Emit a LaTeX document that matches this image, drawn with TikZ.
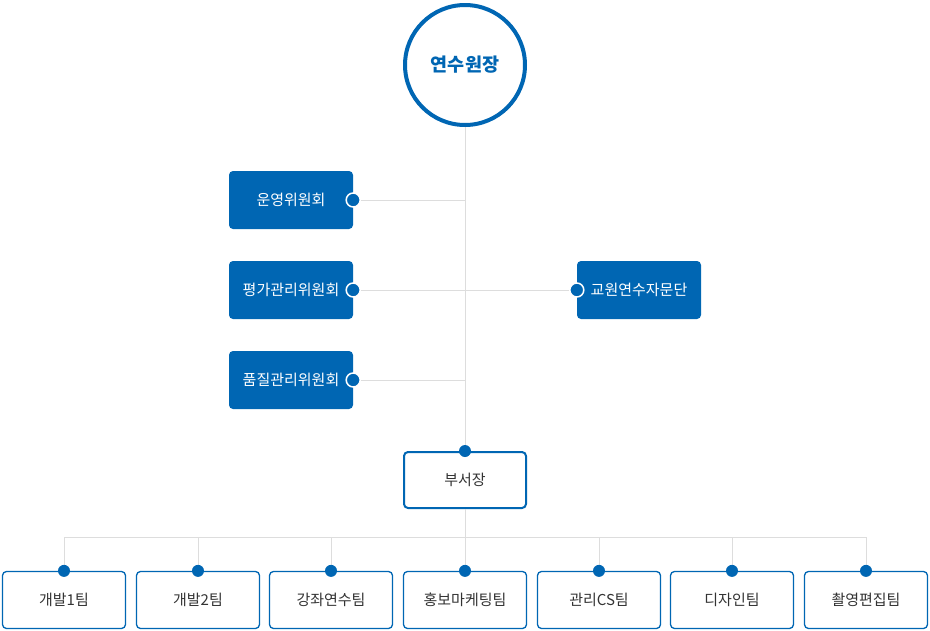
\documentclass[tikz,border=0pt]{standalone}
\usepackage{fontspec}
\newfontfamily\kr{Noto Sans CJK KR}
\definecolor{orgblue}{HTML}{0066B3}
\definecolor{linegray}{HTML}{DDDDDD}
\definecolor{textgray}{HTML}{333333}
\tikzset{
  chiefnode/.style={circle,draw=orgblue,line width=4pt,fill=white,minimum size=120pt,inner sep=0pt,
    text=orgblue,font=\kr\bfseries\fontsize{18.5}{21}\selectfont},
  boardbox/.style={rectangle,rounded corners=4pt,fill=orgblue,minimum width=124pt,minimum height=58pt,
    inner sep=0pt,text=white,font=\kr\fontsize{15}{17}\selectfont},
  teambox/.style={rectangle,rounded corners=4pt,draw=orgblue,line width=1.3pt,fill=white,minimum width=123pt,
    minimum height=57pt,inner sep=0pt,text=textgray,font=\kr\fontsize{15}{17}\selectfont},
  dot/.style={circle,fill=orgblue,draw=white,line width=1.5pt,minimum size=14pt,inner sep=0pt},
  link/.style={draw=linegray,line width=1pt}
}
\begin{document}
\begin{tikzpicture}[x=1pt,y=-1pt]
\useasboundingbox (0,0) rectangle (930,630);

%Top
\node[chiefnode] (chief) at (465,65) {연수원장};

%Committees
\node[boardbox] (ops) at (291,200) {운영위원회};
\node[boardbox] (eval) at (291,290) {평가관리위원회};
\node[boardbox] (qual) at (291,380) {품질관리위원회};
\node[boardbox] (adv) at (639,290) {교원연수자문단};

%Department head
\node[teambox,line width=2pt,minimum width=122pt,minimum height=56pt] (head) at (465,480) {부서장};

%Teams
\node[teambox] (dev1) at (64,600) {개발1팀};
\node[teambox] (dev2) at (198,600) {개발2팀};
\node[teambox] (lect) at (331,600) {강좌연수팀};
\node[teambox] (pr) at (465,600) {홍보마케팅팀};
\node[teambox] (mgmt) at (599,600) {관리CS팀};
\node[teambox] (design) at (732,600) {디자인팀};
\node[teambox] (film) at (866,600) {촬영편집팀};

%Links
\draw[link] (chief.south) -- (head.north);
\draw[link] (ops.east) -- (ops.east -| chief.south);
\draw[link] (eval.east) -- (adv.west);
\draw[link] (qual.east) -- (qual.east -| chief.south);
\coordinate (bus) at (465,537);
\draw[link] (head.south) -- (bus);
\draw[link] (dev1.north |- bus) -- (film.north |- bus);
\draw[link] (dev1.north |- bus) -- (dev1.north);
\draw[link] (dev2.north |- bus) -- (dev2.north);
\draw[link] (lect.north |- bus) -- (lect.north);
\draw[link] (pr.north |- bus) -- (pr.north);
\draw[link] (mgmt.north |- bus) -- (mgmt.north);
\draw[link] (design.north |- bus) -- (design.north);
\draw[link] (film.north |- bus) -- (film.north);

%Dots
\node[dot] at (ops.east) {};
\node[dot] at (eval.east) {};
\node[dot] at (qual.east) {};
\node[dot] at (adv.west) {};
\node[dot,draw=none,minimum size=12pt] at (head.north) {};
\node[dot,draw=none,minimum size=12pt] at (dev1.north) {};
\node[dot,draw=none,minimum size=12pt] at (dev2.north) {};
\node[dot,draw=none,minimum size=12pt] at (lect.north) {};
\node[dot,draw=none,minimum size=12pt] at (pr.north) {};
\node[dot,draw=none,minimum size=12pt] at (mgmt.north) {};
\node[dot,draw=none,minimum size=12pt] at (design.north) {};
\node[dot,draw=none,minimum size=12pt] at (film.north) {};

\end{tikzpicture}
\end{document}
